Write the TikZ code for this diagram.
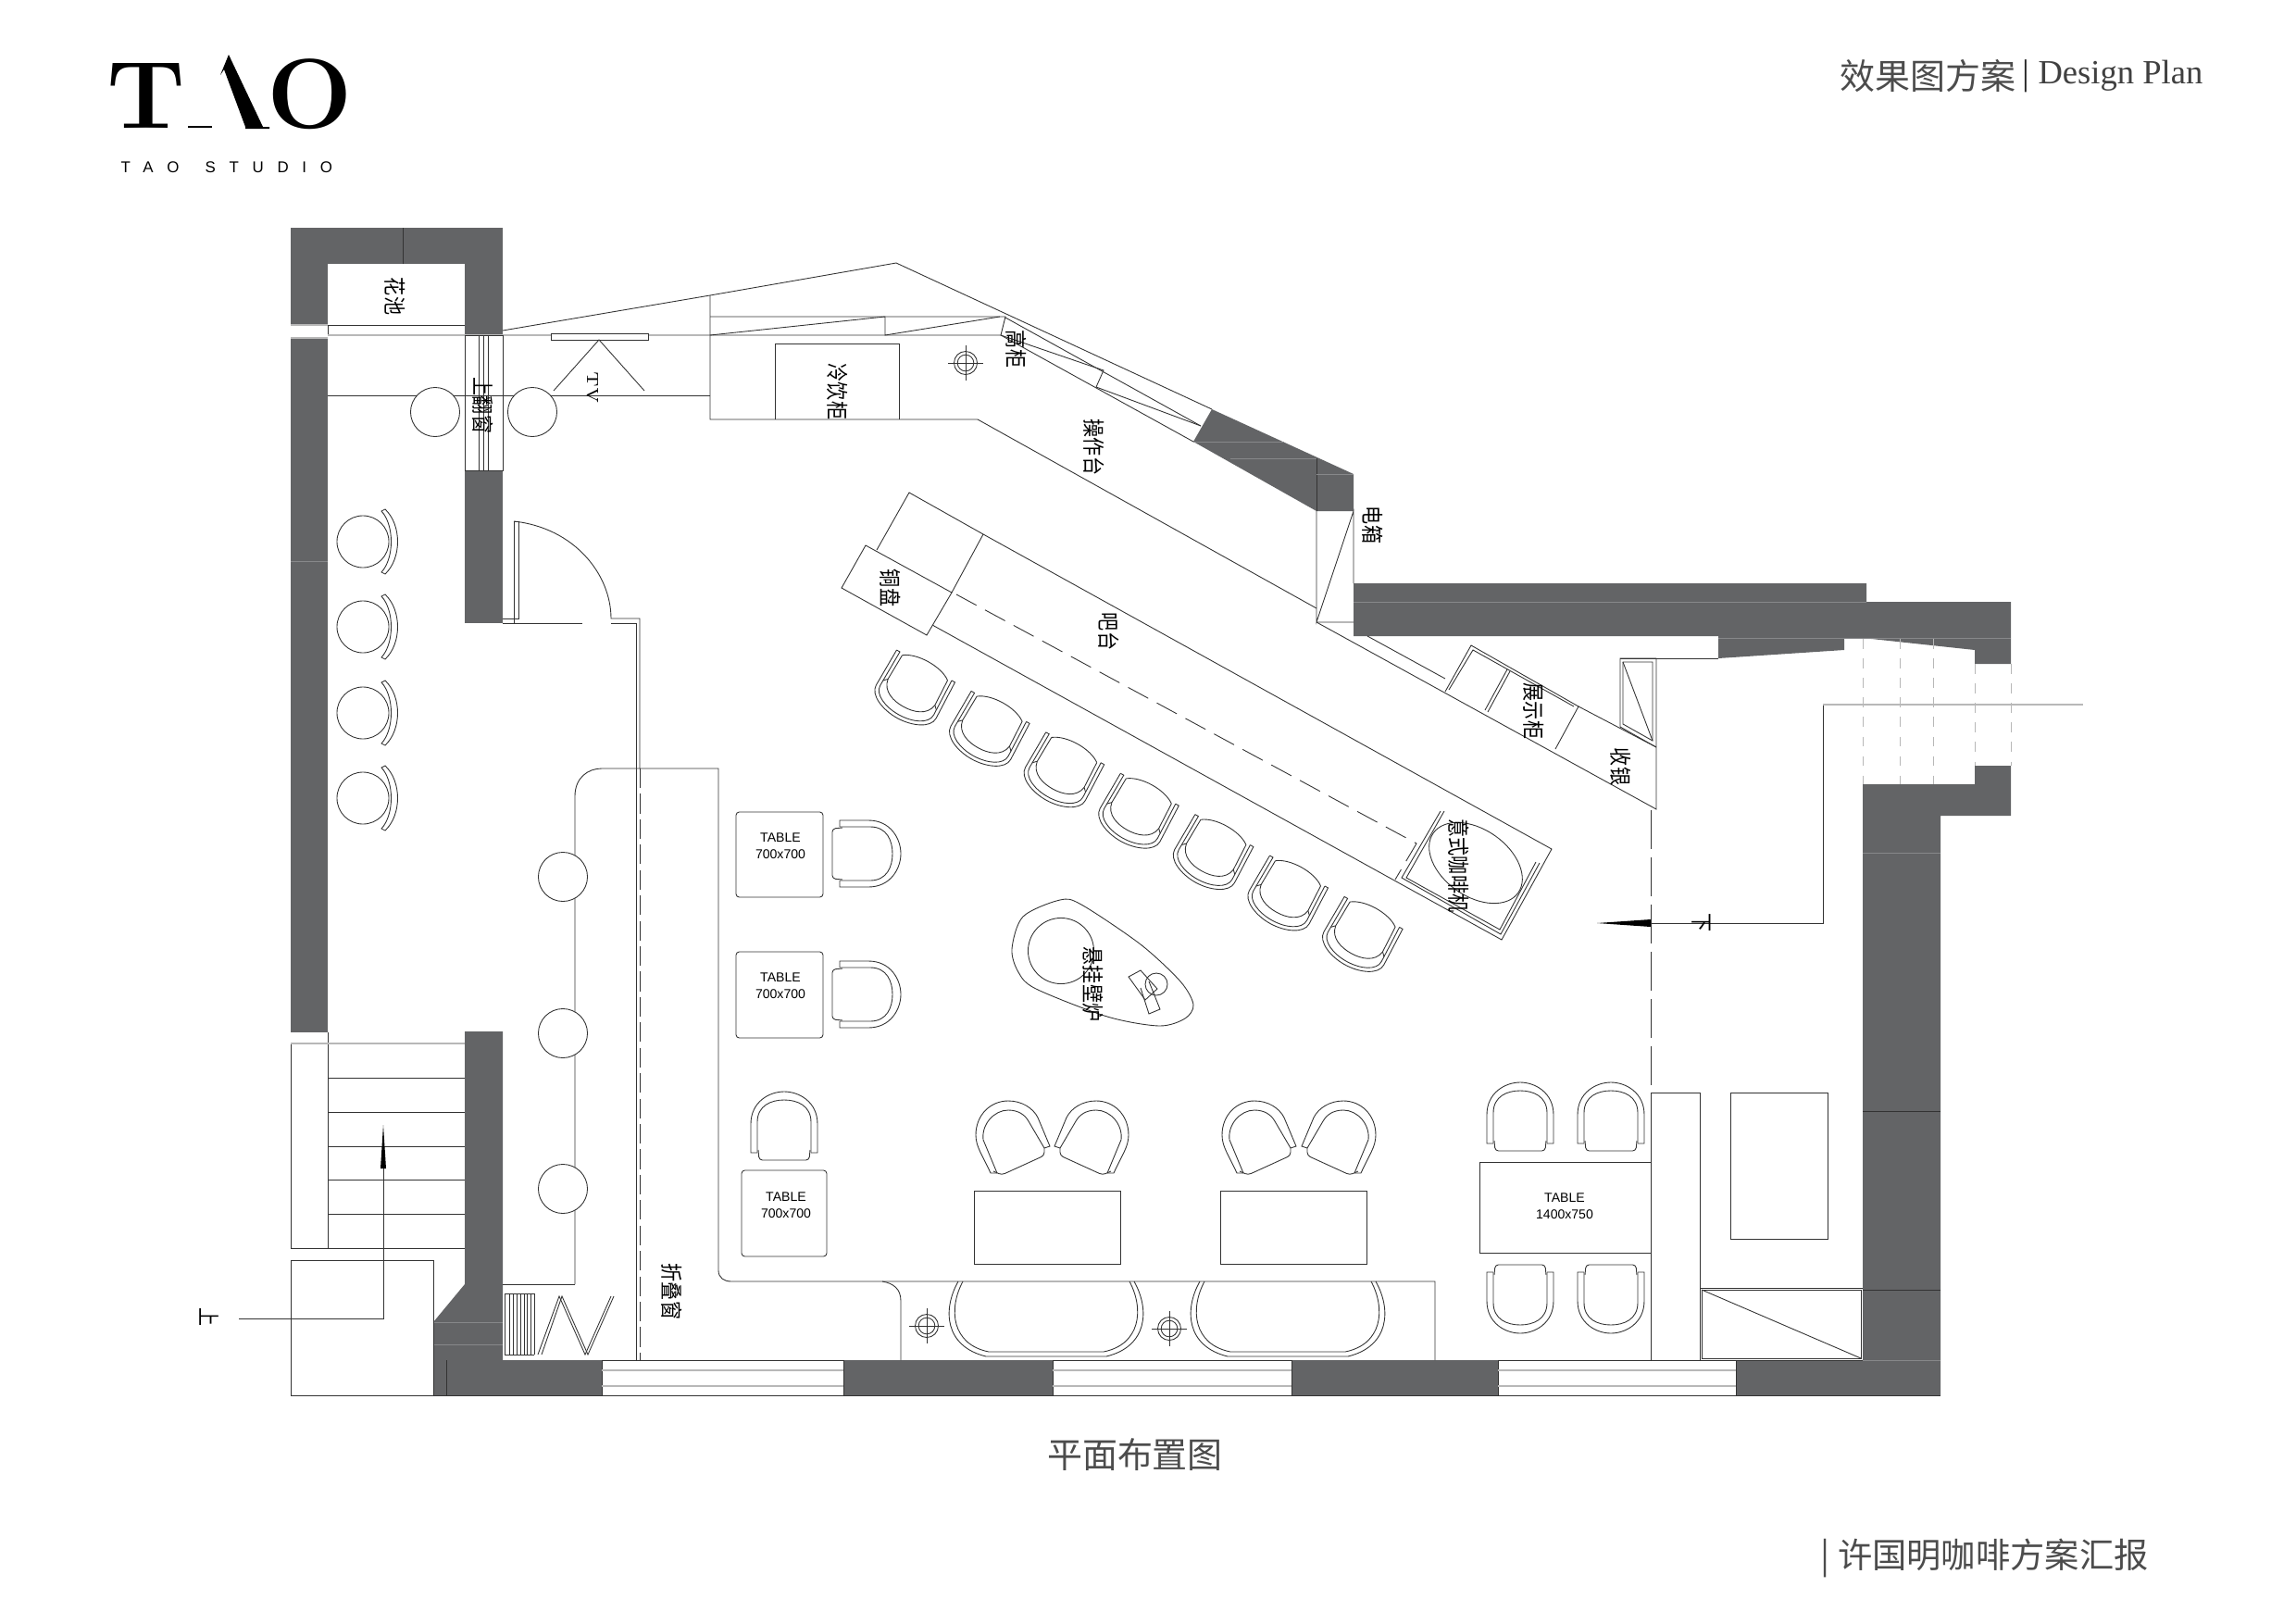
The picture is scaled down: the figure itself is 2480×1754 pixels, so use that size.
\documentclass[tikz,border=0pt]{standalone}
\usepackage{fontspec}
\newfontfamily\cjk{Noto Sans CJK SC}
\newfontfamily\armfont{Liberation Sans}
\newfontfamily\headfont{Liberation Serif}
\usetikzlibrary{positioning}
\definecolor{wallgray}{RGB}{99,100,102}
\definecolor{seamgray}{RGB}{135,136,138}
\tikzset{
    planline/.style={line width=0.25pt, draw=black!80},
    greyline/.style={line width=0.6pt, draw=black!28},
    wall/.style={fill=wallgray, draw=none},
    seam/.style={line width=0.2pt, draw=seamgray},
    planlabel/.style={font=\cjk\fontsize{5.7}{7}\selectfont, rotate=-90, yscale=1.2, inner sep=0pt},
    tablelabel/.style={font=\armfont\fontsize{4}{5}\selectfont, align=center, inner sep=0pt},
    armchair/.pic={
        \draw[planline] (-29,29) -- (-36,29) -- (-36,-2) .. controls (-36,-26) and (-16,-37) .. (0,-37) .. controls (16,-37) and (36,-26) .. (36,-2) -- (36,29) -- (29,29);
        \draw[planline] (-29,29) -- (-29,-4) .. controls (-29,-22) and (-14,-28) .. (0,-28) .. controls (14,-28) and (29,-22) .. (29,-4) -- (29,29);
        \draw[planline, rounded corners=1pt] (-28,26) -- (-27,37) -- (27,37) -- (28,26);
    },
    cornerchair/.pic={
        \draw[planline] (-15,38) -- (-22,38) .. controls (-30,20) and (-38,10) .. (-38,-3) .. controls (-38,-25) and (-22,-40) .. (-3,-40) .. controls (12,-40) and (24,-32) .. (29,-22) -- (42,9) -- (36,11);
        \draw[planline] (-15,38) -- (-30,2) .. controls (-32,-15) and (-18,-30) .. (-3,-30) .. controls (8,-30) and (15,-25) .. (19,-18) -- (36,11);
        \draw[planline, rounded corners=1pt] (36,11) -- (36,19) -- (-10,40) -- (-19,36);
    },
    barstool/.pic={
        \draw[planline] (-36,0) -- (-37,44) .. controls (-37,56) and (-18,64) .. (0,64) .. controls (18,64) and (37,56) .. (37,44) -- (36,0) -- (32,0);
        \draw[planline] (-36,0) -- (-32,0) -- (-33,42) .. controls (-33,53) and (-17,60) .. (0,60) .. controls (17,60) and (33,53) .. (33,42) -- (32,0);
        \draw[planline] (-28,2) -- (-29,32) .. controls (-27,46) and (-12,50) .. (0,50) .. controls (12,50) and (27,46) .. (29,32) -- (28,2);
        \draw[planline] (-28,2) .. controls (-15,-8) and (15,-8) .. (28,2);
        \draw[planline] (-33,36) -- (-29,32) (33,36) -- (29,32);
    },
    roundstool/.pic={
        \draw[planline] (0,0) ellipse (0.28cm and 0.28cm);
        \draw[planline] (20,-33) .. controls (34,-18) and (34,18) .. (20,33) -- (24,35) .. controls (42,18) and (42,-18) .. (24,-35) -- cycle;
    },
    downlight/.pic={
        \draw[planline] (0,0) circle (0.125cm);
        \draw[planline] (0,0) circle (0.088cm);
        \draw[planline] (-19,0) -- (19,0) (0,-19) -- (0,19);
    },
    bathseat/.pic={
        \draw[planline] (-95,0) .. controls (-112,30) and (-110,70) .. (-65,81) -- (65,81) .. controls (110,70) and (112,30) .. (95,0);
        \draw[planline] (-90,0) .. controls (-106,30) and (-102,68) .. (-62,76) -- (62,76) .. controls (102,68) and (106,30) .. (90,0);
    }
}
\begin{document}
\begin{tikzpicture}[x=0.01cm, y=-0.01cm]
    \useasboundingbox (0,0) rectangle (2480,1754);

    % Logo and headings
    \node (logoT) [anchor=base, inner sep=0pt, xscale=1.05, font=\bfseries\fontsize{29.4}{30}\selectfont] at (158,138) {T};
    \fill (203,136) rectangle (229,138);
    \fill (247,59) -- (284,137) -- (291,137) -- (291,139) -- (265,139) -- (265,137) -- (242,75) -- (238,81) -- cycle;
    \node (logoO) [anchor=base, inner sep=0pt, xscale=1.02, font=\bfseries\fontsize{30.5}{32}\selectfont] at (335,138) {O};
    \node (logoName) [anchor=west, inner sep=0pt, font=\armfont\fontsize{4.8}{6}\selectfont\addfontfeature{LetterSpace=87}] at (130,181) {TAO\hspace{2.5pt} STUDIO};
    \node (headCn) [anchor=west, inner sep=0pt, text=black!70, font=\cjk\fontsize{10.8}{12}\selectfont] at (1987,82) {效果图方案};
    \node (headBar) [inner sep=0pt, text=black!85, font=\headfont\fontsize{11}{12}\selectfont] at (2188,82) {|};
    \node (headEn) [anchor=east, inner sep=0pt, text=black!75, font=\headfont\fontsize{10.4}{12}\selectfont] at (2380,82) {Design Plan};
    \node (planTitle) [inner sep=0pt, text=black!70, font=\cjk\fontsize{10.8}{12}\selectfont] at (1226,1571) {平面布置图};
    \node (footTitle) [anchor=west, inner sep=0pt, text=black!70, font=\cjk\fontsize{10.6}{12}\selectfont] at (1966,1683) {| 许国明咖啡方案汇报};

    % Walls
    \fill[wall] (314,246) rectangle (543,285);
    \fill[wall] (314,285) rectangle (354,351);
    \fill[wall] (502,285) rectangle (543,362);
    \fill[wall] (314,365) rectangle (354,1115);
    \fill[wall] (502,508) rectangle (543,673);
    \fill[wall] (502,1114) -- (543,1114) -- (543,1469) -- (468,1469) -- (468,1428) -- (502,1387) -- cycle;
    \fill[wall] (1309,442) -- (1462,512) -- (1462,552) -- (1422,552) -- (1289,477) -- cycle;
    \fill[wall] (1462,630) -- (2016,630) -- (2016,650) -- (2172,650) -- (2172,717) -- (2133,717) -- (2133,702) -- (2012,689) -- (1992,689) -- (1992,702) -- (1856,711) -- (1856,687) -- (1462,687) -- cycle;
    \fill[wall] (2133,827) -- (2172,827) -- (2172,881) -- (2096,881) -- (2096,1507) -- (1875,1507) -- (1875,1469) -- (2012,1469) -- (2012,847) -- (2133,847) -- cycle;
    \fill[wall] (468,1469) rectangle (650,1507);
    \fill[wall] (911,1469) rectangle (1137,1507);
    \fill[wall] (1395,1469) rectangle (1618,1507);
    % Seams in the walls
    \draw[planline] (435,246) -- (435,285);
    \draw[planline] (482,1469) -- (482,1507);
    \draw[planline] (1422,495) -- (1422,552);
    \draw[planline] (2012,1200) -- (2096,1200) (2012,1393) -- (2096,1393);
    \draw[seam] (1462,650) -- (2016,650) (1856,689) -- (2172,689) (2012,921) -- (2096,921);
    \draw[seam] (1289,477) -- (1387,477) (1329,495) -- (1422,495) (1422,512) -- (1462,512);
    \draw[seam] (314,606) -- (354,606) (468,1428) -- (543,1428) (468,1452) -- (543,1452) (2012,1469) -- (2096,1469);

    % Upper left and the window
    \draw[planline] (354,351) -- (502,351) (354,351) -- (354,362);
    \draw[greyline, line width=0.3pt] (314,351) -- (354,351) (314,365) -- (354,365);
    \draw[greyline] (354,362) -- (1081,362);
    \draw[planline] (354,427) -- (767,427);
    \draw[planline] (502,362) rectangle (543,508);
    \foreach \wx in {517,522,527} {
        \draw[planline] (\wx,362) -- (\wx,508);
    }
    \draw[planline] (543,357) -- (767,319) -- (968,284) -- (1309,442);
    \draw[planline] (767,319) -- (767,453) -- (1056,453) -- (1422,657);
    \draw[planline] (767,342) -- (1086,342) -- (1081,362) -- (1289,477);
    \draw[planline] (767,362) -- (956,342) -- (956,362) -- (1080,342);
    \draw[planline] (1086,343) -- (1297,460);
    \draw[planline] (1081,362) -- (1192,400) -- (1184,418) -- (1297,460);
    \draw[planline] (1422,552) -- (1422,672) -- (1462,552) -- (1462,630) (1422,672) -- (1462,672);
    \node (stoolA) [planline, draw, circle, fill=white, minimum size=0.53cm, inner sep=0pt] at (470,445) {};
    \node (stoolB) [planline, draw, circle, fill=white, minimum size=0.53cm, inner sep=0pt] at (575,445) {};

    % TV
    \draw[planline, fill=white] (595,360) rectangle (700,367);
    \draw[planline] (598,422) -- (647,367) -- (696,422);

    % Cold drinks cabinet
    \draw[planline] (837,453) -- (837,371) -- (971,371) -- (971,453);
    \pic at (1043,392) {downlight};

    % Door
    \draw[planline] (543,668) -- (560,668) -- (560,563) -- (555,563) -- (555,673);
    \draw[planline] (555,563) .. controls (620,570) and (660,620) .. (660,668) -- (691,668) -- (691,830);
    \draw[planline] (543,673) -- (629,673) (660,673) -- (687,673) -- (687,1469);
    \draw[planline, dash pattern=on 6pt off 1.8pt] (691,830) -- (691,1469);

    % Lounge stools on the left
    \foreach \sy in {585,677,770,862} {
        \pic at (392,\sy) {roundstool};
    }

    % Bar
    \draw[planline] (947,594) -- (982,532) -- (1062,577) -- (1676,917) -- (1622,1015) -- (1007,675);
    \draw[planline] (1062,577) -- (1028,640);
    \draw[planline] (935,589) -- (909,635) -- (1001,686) -- (1028,640) -- cycle;
    \draw[planline, dash pattern=on 7pt off 3pt] (1033,642) -- (1530,911) -- (1507,950);
    \draw[planline] (1560,876) -- (1519,948) -- (1620,1004) -- (1659,931);
    \draw[planline] (1556,876) -- (1514,948) -- (1621,1009) -- (1663,932);
    \draw[planline, rotate around={-35:(1594,932)}] (1594,932) ellipse (0.56cm and 0.36cm);
    \foreach \k in {0,...,6} {
        \pic[rotate=-29] at ({1000+80.6*\k},{719.5+44.4*\k}) {barstool};
    }

    % Fireplace
    \draw[planline] plot[smooth cycle] coordinates {(1145,972) (1168,977) (1232,1020) (1275,1060) (1289,1085) (1280,1100) (1252,1108) (1196,1098) (1119,1068) (1100,1050) (1093,1025) (1105,990)};
    \draw[planline] (1146,1027) circle (0.355cm);
    \draw[planline] (1249,1063) circle (0.12cm);
    \draw[planline] (1232,1048) -- (1219,1055) -- (1237,1080) -- (1250,1068) -- cycle;
    \draw[planline] (1232,1067) -- (1241,1095) -- (1253,1090) -- (1241,1060);

    % Cashier and display cabinet
    \draw[planline] (1422,672) -- (1789,874) -- (1789,711) -- (1750,711) -- (1750,785) -- (1789,807);
    \draw[planline] (1750,711) -- (1856,711);
    \draw[planline] (1753,715) -- (1785,715) -- (1785,800) -- (1753,782) -- cycle;
    \draw[planline] (1753,715) -- (1785,800);
    \draw[planline] (1477,687) -- (1561,733);
    \draw[planline] (1561,747) -- (1589,697) -- (1705,763) -- (1680,809);
    \draw[planline] (1705,763) -- (1789,807);
    \draw[planline] (1565,745) -- (1591,702) -- (1700,763);
    \draw[planline] (1628,723) -- (1604,767) (1631,725) -- (1607,769);

    % Stairs on the right and the arrow
    \foreach \dx in {2012,2052,2088} {
        \draw[greyline, line width=0.25pt, dashed] (\dx,690) -- (\dx,847);
    }
    \foreach \dx in {2133,2172} {
        \draw[greyline, line width=0.25pt, dashed] (\dx,717) -- (\dx,827);
    }
    \draw[planline, dash pattern=on 12pt off 2.5pt] (1783,875) -- (1783,1180);
    \fill (1725,997) -- (1783,993) -- (1783,1001) -- cycle;
    \draw[planline] (1783,997) -- (1969,997) -- (1969,761);
    \draw[greyline] (1969,761) -- (2250,761);

    % Right room
    \draw[planline] (1783,1180) -- (1836,1180) -- (1836,1469);
    \draw[planline] (1783,1180) -- (1783,1469) -- (2012,1469);
    \draw[planline] (1869,1180) rectangle (1974,1338);
    \draw[planline] (1836,1391) -- (2012,1391);
    \draw[planline] (1838,1393) rectangle (2010,1467);
    \draw[planline] (1838,1393) -- (2010,1467);

    % Staircase on the left
    \draw[planline] (354,1115) -- (354,1348) (314,1127) -- (314,1348);
    \draw[greyline] (314,1127) -- (502,1127);
    \foreach \ty in {1164,1201,1238,1274,1311} {
        \draw[planline] (354,\ty) -- (502,\ty);
    }
    \draw[planline] (314,1348) -- (502,1348);
    \draw[planline] (314,1361) rectangle (468,1507);
    \draw[planline] (258,1424) -- (414,1424) -- (414,1262);
    \fill (414,1215) -- (411,1262) -- (417,1262) -- cycle;

    % Seating bench along the windows
    \draw[planline] (621,1387) -- (543,1387);
    \draw[planline] (621,1387) -- (621,860) .. controls (621,840) and (635,830) .. (650,830) -- (776,830) -- (776,1372) .. controls (776,1380) and (782,1384) .. (790,1384) -- (1550,1384) -- (1550,1469);
    \draw[planline] (953,1384) .. controls (965,1386) and (973,1392) .. (973,1405) -- (973,1469);
    \foreach \ry in {947,1116,1284} {
        \node (roundTable\ry) [planline, draw, fill=white, circle, minimum size=0.53cm, inner sep=0pt] at (608,\ry) {};
    }
    \pic at (1130,1384) {bathseat};
    \pic at (1391,1384) {bathseat};
    \pic at (1001,1432) {downlight};
    \pic at (1263,1435) {downlight};

    % Folding door stack
    \foreach \fx in {545,550,554,558,562,566,569,573,577} {
        \draw[planline] (\fx,1397) -- (\fx,1463);
    }
    \draw[planline] (545,1397) -- (577,1397) (545,1463) -- (577,1463);
    \draw[planline] (581,1463) -- (604,1400) -- (632,1463) -- (660,1400);
    \draw[planline] (585,1463) -- (607,1400) -- (635,1463) -- (663,1400);

    % Bottom windows
    \foreach \wa/\wb in {650/911,1137/1395,1618/1875} {
        \draw[planline] (\wa,1469) rectangle (\wb,1507);
        \draw[greyline] (\wa,1480) -- (\wb,1480) (\wa,1497) -- (\wb,1497);
    }
    \draw[planline] (314,1507) -- (2096,1507);

    % Tables and chairs
    \draw[planline, rounded corners=1pt] (795,877) rectangle (889,969);
    \draw[planline, rounded corners=1pt] (795,1028) rectangle (889,1121);
    \draw[planline, rounded corners=1pt] (801,1264) rectangle (893,1357);
    \draw[planline] (1052,1286) rectangle (1210,1365);
    \draw[planline] (1318,1286) rectangle (1476,1365);
    \draw[planline] (1598,1255) rectangle (1783,1353);
    \node (tableA) [tablelabel] at (843,914) {TABLE\\700x700};
    \node (tableB) [tablelabel] at (843,1065) {TABLE\\700x700};
    \node (tableC) [tablelabel] at (849,1302) {TABLE\\700x700};
    \node (tableD) [tablelabel] at (1690,1303) {TABLE\\1400x750};
    \pic[rotate=-90] at (936,922) {armchair};
    \pic[rotate=-90] at (936,1074) {armchair};
    \pic at (847,1216) {armchair};
    \pic at (1092,1229) {cornerchair};
    \pic[xscale=-1] at (1181,1229) {cornerchair};
    \pic at (1358,1229) {cornerchair};
    \pic[xscale=-1] at (1448,1229) {cornerchair};
    \pic at (1642,1206) {armchair};
    \pic at (1740,1206) {armchair};
    \pic[rotate=180] at (1642,1403) {armchair};
    \pic[rotate=180] at (1740,1403) {armchair};

    % Labels
    \node (labelPond) [planlabel] at (427,320) {花池};
    \node (labelWindow) [planlabel, fill=none] at (522,438) {上翻窗};
    \node (labelTv) [rotate=-90, inner sep=0pt, font=\fontsize{5}{6}\selectfont] at (640,419) {TV};
    \node (labelCold) [planlabel] at (905,423) {冷饮柜};
    \node (labelHigh) [planlabel] at (1098,377) {高柜};
    \node (labelWork) [planlabel] at (1182,483) {操作台};
    \node (labelPower) [planlabel] at (1483,567) {电箱};
    \node (labelBar) [planlabel] at (1198,682) {吧台};
    \node (labelCopper) [planlabel] at (962,635) {铜盘};
    \node (labelDisplay) [planlabel] at (1657,768) {展示柜};
    \node (labelCash) [planlabel] at (1751,828) {收银};
    \node (labelCoffee) [planlabel] at (1576,935) {意式咖啡机};
    \node (labelFire) [planlabel] at (1181,1063) {悬挂壁炉};
    \node (labelFold) [planlabel] at (726,1395) {折叠窗};
    \node (labelDown) [planlabel] at (1838,997) {下};
    \node (labelUp) [planlabel] at (226,1423) {上};
\end{tikzpicture}
\end{document}
